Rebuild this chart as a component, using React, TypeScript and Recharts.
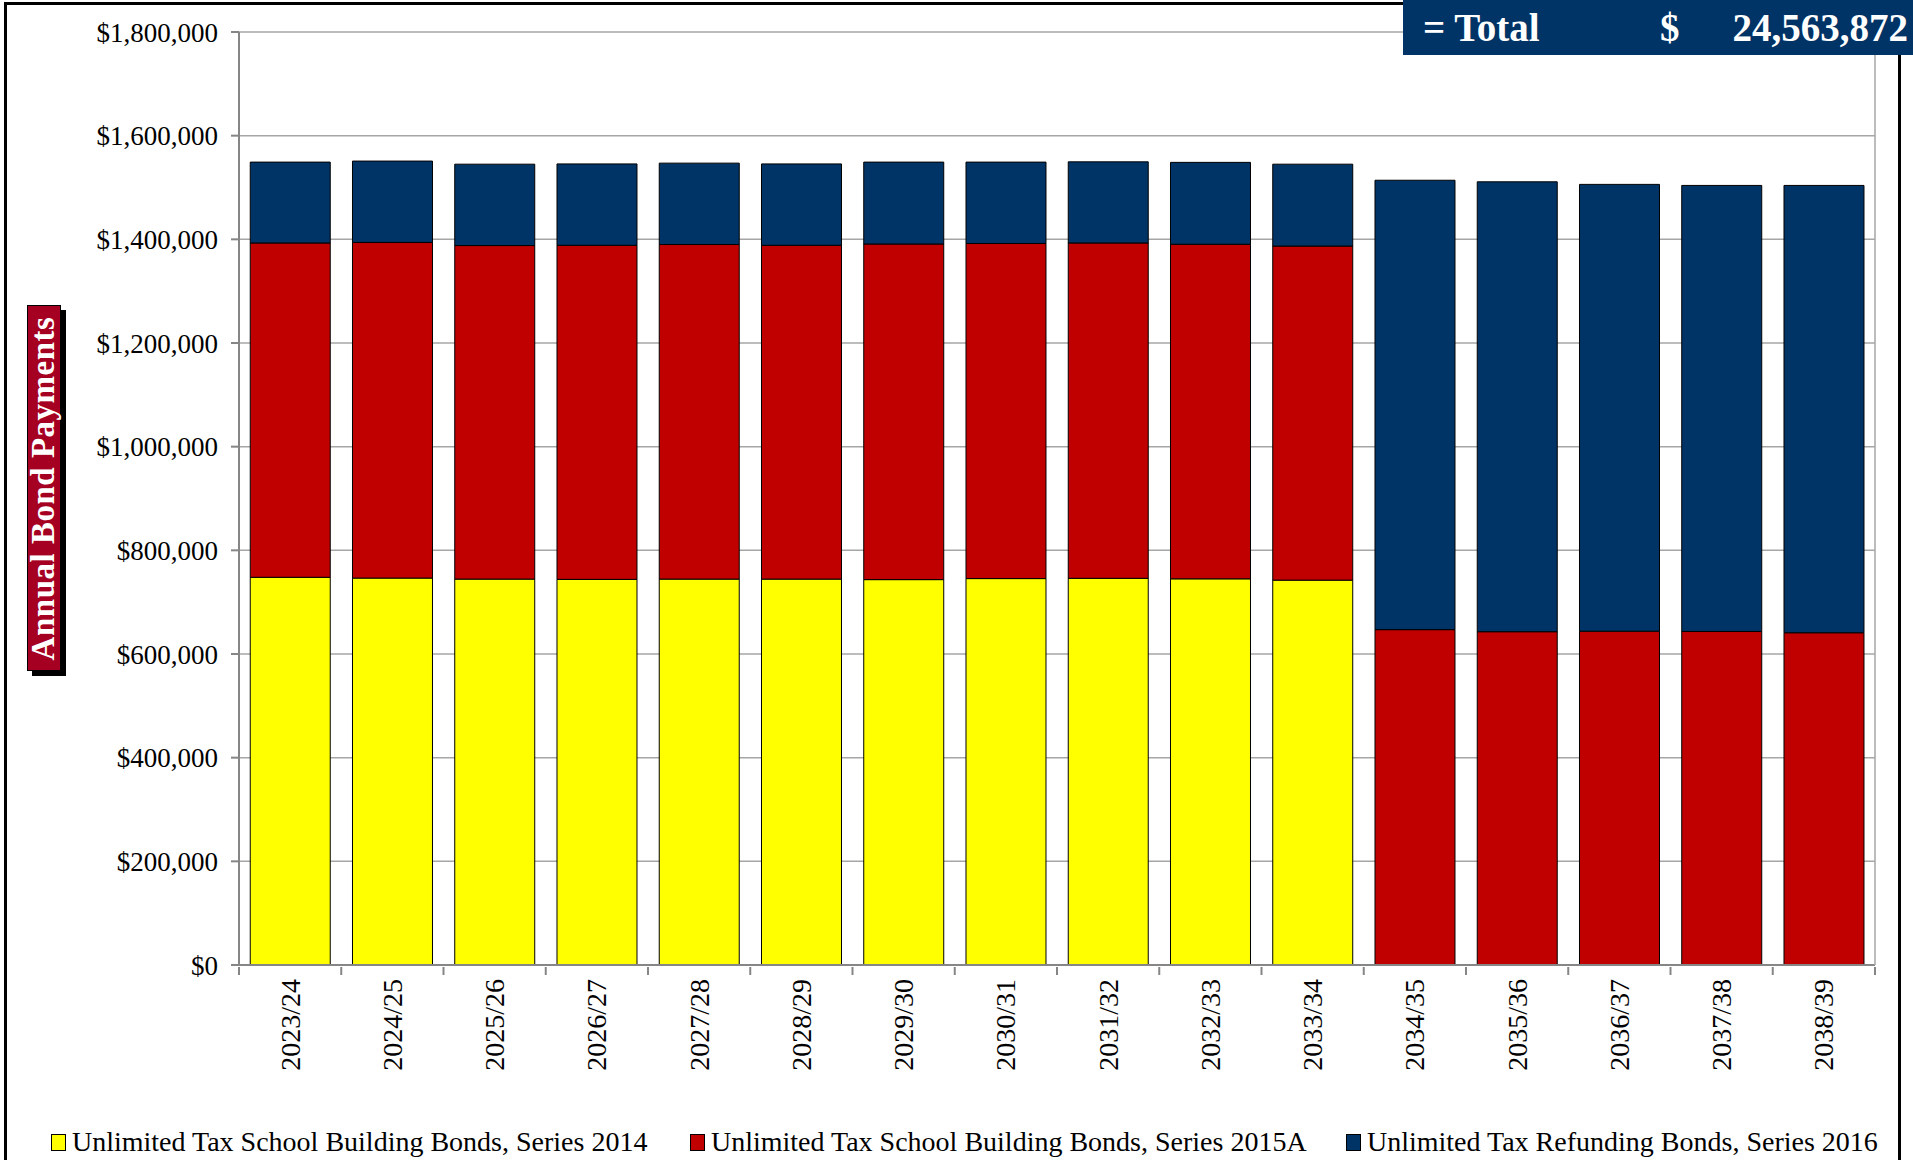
import { BarChart, Bar, XAxis, YAxis, CartesianGrid } from 'recharts';

// fiscal years shown on the x axis
const years = [
  '2023/24', '2024/25', '2025/26', '2026/27', '2027/28', '2028/29', '2029/30', '2030/31',
  '2031/32', '2032/33', '2033/34', '2034/35', '2035/36', '2036/37', '2037/38', '2038/39',
];

// annual payments per bond issue
const series2014 = [
  748000, 746500, 744500, 744000, 744500, 744500, 743500, 745500, 746000, 745000, 742500,
  null, null, null, null, null,
];
const series2015A = [
  645000, 647500, 643500, 644500, 645500, 644000, 647500, 646500, 647000, 645500, 644500,
  647000, 643000, 644000, 643500, 641000,
];
const series2016 = [
  156000, 157000, 157000, 157000, 157000, 157000, 158000, 157000, 156500, 158000, 158000,
  867000, 868000, 862000, 860500, 863000,
];

const yTicks = [0, 200000, 400000, 600000, 800000, 1000000, 1200000, 1400000, 1600000, 1800000];
const TOTAL_LABEL = '24,563,872';

const seriesInfo = [
  { key: 's2014', name: 'Unlimited Tax School Building Bonds, Series 2014', color: '#FFFF00' },
  { key: 's2015A', name: 'Unlimited Tax School Building Bonds, Series 2015A', color: '#C00000' },
  { key: 's2016', name: 'Unlimited Tax Refunding Bonds, Series 2016', color: '#003366' },
];

const data = years.map((year, i) => ({
  year,
  s2014: series2014[i],
  s2015A: series2015A[i],
  s2016: series2016[i],
}));

const FONT = '"Liberation Serif", "DejaVu Serif", serif';
const AXIS_GRAY = '#868686';

const legendLeft = [51, 690, 1346];

const fmtMoney = (v: number) => '$' + v.toLocaleString('en-US');

// x tick: rotated label at category centre, tick marks at category boundaries
const XTick = (props: any) => {
  const { x, y, payload, index } = props;
  const half = payload && payload.offset ? payload.offset : 51;
  return (
    <g>
      <line x1={x - half} y1={y - 8} x2={x - half} y2={y} stroke={AXIS_GRAY} strokeWidth={2} />
      {index === years.length - 1 && (
        <line x1={x + half} y1={y - 8} x2={x + half} y2={y} stroke={AXIS_GRAY} strokeWidth={2} />
      )}
      <text
        x={0}
        y={0}
        transform={`translate(${x}, ${y + 4}) rotate(-90)`}
        textAnchor="end"
        dominantBaseline="central"
        fontFamily={FONT}
        fontSize={28}
        fill="#000"
      >
        {payload.value}
      </text>
    </g>
  );
};

export default function App() {
  return (
    <div
      style={{
        position: 'fixed',
        left: 0,
        top: 0,
        width: 1913,
        height: 1160,
        overflow: 'hidden',
        background: '#fff',
        fontFamily: FONT,
      }}
    >
      <div style={{ position: 'absolute', left: 0, top: 0 }}>
        <BarChart
          width={1913}
          height={1160}
          data={data}
          margin={{ top: 32, right: 0, left: 0, bottom: 0 }}
          barCategoryGap="11%"
        >
          <CartesianGrid yAxisId="left" vertical={false} stroke="#a6a6a6" strokeWidth={1.5} />
          <XAxis
            dataKey="year"
            yAxisId="left"
            height={195}
            interval={0}
            tickLine={false}
            tickSize={8}
            axisLine={{ stroke: AXIS_GRAY, strokeWidth: 2 }}
            tick={<XTick />}
          />
          <YAxis
            yAxisId="left"
            width={239}
            domain={[0, 1800000]}
            ticks={yTicks}
            interval={0}
            tickFormatter={fmtMoney}
            tickSize={8}
            tickMargin={13}
            tickLine={{ stroke: AXIS_GRAY, strokeWidth: 2 }}
            axisLine={{ stroke: AXIS_GRAY, strokeWidth: 2 }}
            tick={{ fontFamily: FONT, fontSize: 27, fill: '#000' }}
          />
          <YAxis
            yAxisId="right"
            orientation="right"
            width={38}
            domain={[0, 1800000]}
            ticks={yTicks}
            tick={false}
            tickLine={false}
            axisLine={{ stroke: '#a6a6a6', strokeWidth: 1.5 }}
          />
          {seriesInfo.map((s) => (
            <Bar
              key={s.key}
              yAxisId="left"
              dataKey={s.key}
              name={s.name}
              stackId="a"
              fill={s.color}
              stroke="#000"
              strokeWidth={1}
              isAnimationActive={false}
            />
          ))}
        </BarChart>
      </div>

      {/* outer frame */}
      <div
        style={{
          position: 'absolute',
          left: 4,
          top: 2,
          width: 1891,
          height: 1170,
          border: '3px solid #000',
          pointerEvents: 'none',
        }}
      />

      {/* y axis title box */}
      <div
        style={{
          position: 'absolute',
          left: 27,
          top: 305,
          width: 32,
          height: 364,
          background: '#A50021',
          border: '1px solid #000',
          boxShadow: '5px 5px 0 #000',
          display: 'flex',
          alignItems: 'center',
          justifyContent: 'center',
        }}
      >
        <div
          style={{
            transform: 'rotate(-90deg)',
            whiteSpace: 'nowrap',
            color: '#fff',
            fontWeight: 'bold',
            fontSize: 33,
            letterSpacing: 0.5,
          }}
        >
          Annual Bond Payments
        </div>
      </div>

      {/* total box */}
      <div
        style={{
          position: 'absolute',
          left: 1403,
          top: 0,
          width: 510,
          height: 55,
          background: '#003366',
          color: '#fff',
          fontWeight: 'bold',
          fontSize: 39,
          lineHeight: '55px',
        }}
      >
        <span style={{ position: 'absolute', left: 20 }}>= Total</span>
        <span style={{ position: 'absolute', left: 257 }}>$</span>
        <span style={{ position: 'absolute', right: 5 }}>{TOTAL_LABEL}</span>
      </div>

      {/* legend */}
      {seriesInfo.map((s, i) => (
        <div
          key={s.key}
          style={{
            position: 'absolute',
            left: legendLeft[i],
            top: 1126,
            display: 'flex',
            alignItems: 'center',
            fontSize: 28,
            whiteSpace: 'nowrap',
            color: '#000',
          }}
        >
          <span
            style={{
              display: 'inline-block',
              width: 13,
              height: 15,
              background: s.color,
              border: '1px solid #000',
              marginRight: 6,
            }}
          />
          {s.name}
        </div>
      ))}
    </div>
  );
}
